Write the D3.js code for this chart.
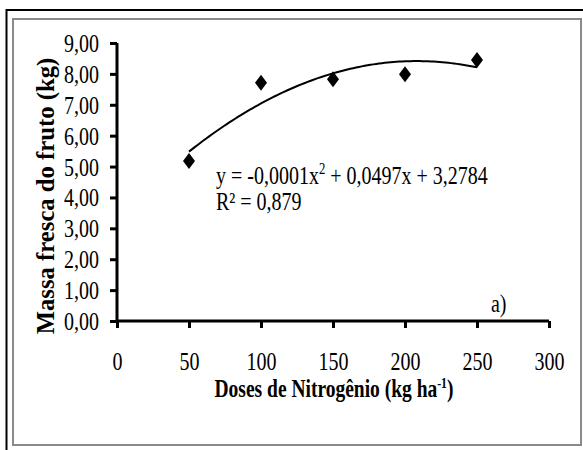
<!DOCTYPE html>
<html>
<head>
<meta charset="utf-8">
<script src="https://cdn.jsdelivr.net/npm/d3@7"></script>
<style>
  body { margin: 0; background: #fff; }
  svg { display: block; }
  text { font-family: "Liberation Serif", "Times New Roman", serif; fill: #000; }
</style>
</head>
<body>
<svg id="chart"></svg>
<script>
// Data
const doses = [50, 100, 150, 200, 250];
const massa = [5.18, 7.71, 7.83, 7.99, 8.45];
const xTicks = [0, 50, 100, 150, 200, 250, 300];
const yTicks = [0, 1, 2, 3, 4, 5, 6, 7, 8, 9];
const equationParts = ['y = -0,0001x', '2', ' + 0,0497x + 3,2784'];
const r2Label = 'R² = 0,879';

// Canvas
let width = 583;
let height = 450;
let margin = {left: 117, top: 43, right: 34, bottom: 129};
let fs = 25;    // font size of the plain texts
let sx = 0.8;   // horizontal squeeze of the text

let svg = d3.select('#chart')
    .attr('width', width)
    .attr('height', height);

// frame
svg.append('rect')
    .attr('x', 13).attr('y', 19)
    .attr('width', 568).attr('height', 426)
    .attr('fill', 'none')
    .attr('stroke', '#8a8a8a')
    .attr('stroke-width', 2);
svg.append('line')
    .attr('x1', 6).attr('x2', width).attr('y1', 10).attr('y2', 10)
    .attr('stroke', '#000').attr('stroke-width', 2);
svg.append('line')
    .attr('x1', 6.5).attr('x2', 6.5).attr('y1', 9).attr('y2', height)
    .attr('stroke', '#000').attr('stroke-width', 2);

// Scales
let xScale = d3.scaleLinear()
    .domain([0, 300])
    .range([margin.left, width - margin.right]);
let yScale = d3.scaleLinear()
    .domain([0, 9])
    .range([height - margin.bottom, margin.top]);

// quadratic least squares trend from the points
let fitQuadratic = (xs, ys) => {
    let s = [0, 0, 0, 0, 0];
    let t = [0, 0, 0];
    xs.forEach((x, i) => {
        for (let k = 0; k <= 4; k++) s[k] += Math.pow(x, k);
        for (let k = 0; k <= 2; k++) t[k] += Math.pow(x, k) * ys[i];
    });
    let A = [[s[0], s[1], s[2]], [s[1], s[2], s[3]], [s[2], s[3], s[4]]];
    let det = m => m[0][0] * (m[1][1] * m[2][2] - m[1][2] * m[2][1])
        - m[0][1] * (m[1][0] * m[2][2] - m[1][2] * m[2][0])
        + m[0][2] * (m[1][0] * m[2][1] - m[1][1] * m[2][0]);
    let D = det(A);
    let coef = [0, 1, 2].map(c => {
        let M = A.map((row, r) => row.map((v, j) => j === c ? t[r] : v));
        return det(M) / D;
    });
    return x => coef[0] + coef[1] * x + coef[2] * x * x;
};
let trend = fitQuadratic(doses, massa);
let trendX = d3.range(doses[0], doses[doses.length - 1] + 0.1, 2);

// Axes
let xAxis = d3.axisBottom(xScale)
    .tickValues(xTicks)
    .tickSize(7)
    .tickPadding(24)
    .tickFormat(d3.format('d'));
let yAxis = d3.axisLeft(yScale)
    .tickValues(yTicks)
    .tickSize(7)
    .tickPadding(11)
    .tickFormat(d => d.toFixed(2).replace('.', ','));

let gx = svg.append('g')
    .attr('transform', 'translate(0,' + yScale(0) + ')')
    .call(xAxis);
let gy = svg.append('g')
    .attr('transform', 'translate(' + xScale(0) + ',0)')
    .call(yAxis);

[gx, gy].forEach(g => {
    g.select('.domain').attr('stroke', '#000').attr('stroke-width', 3);
    g.selectAll('.tick line').attr('stroke', '#000').attr('stroke-width', 3);
    g.selectAll('.tick text')
        .attr('font-family', '"Liberation Serif", serif')
        .attr('font-size', fs)
        .attr('fill', '#000')
        .attr('transform', 'scale(' + sx + ',1)');
});
gy.select('.domain').attr('d', 'M0,' + yScale(0) + 'V' + yScale(9));
gx.select('.domain').attr('d', 'M' + xScale(0) + ',0H' + xScale(300));
gy.selectAll('.tick text')
    .attr('x', -18 / sx)
    .attr('dy', '0.34em');

// trend line
let line = d3.line()
    .x(d => xScale(d))
    .y(d => yScale(trend(d)));
svg.append('path')
    .datum(trendX)
    .attr('d', line)
    .attr('fill', 'none')
    .attr('stroke', '#000')
    .attr('stroke-width', 2);

// points
let diamond = (w, h) => 'M0,' + (-h / 2) + 'L' + (w / 2) + ',0L0,' + (h / 2) + 'L' + (-w / 2) + ',0Z';
svg.selectAll('.dot')
    .data(doses)
    .enter()
    .append('path')
    .attr('class', 'dot')
    .attr('d', diamond(12, 16))
    .attr('transform', (d, i) => 'translate(' + xScale(d) + ',' + yScale(massa[i]) + ')')
    .attr('fill', '#000');

// equation
let eq = svg.append('text')
    .attr('transform', 'translate(216,184) scale(' + sx + ',1)')
    .attr('font-size', fs);
eq.append('tspan').text(equationParts[0]);
eq.append('tspan').attr('dy', -10).attr('font-size', 16).text(equationParts[1]);
eq.append('tspan').attr('dy', 10).text(equationParts[2]);

svg.append('text')
    .attr('transform', 'translate(216,210) scale(' + sx + ',1)')
    .attr('font-size', fs)
    .text(r2Label);

svg.append('text')
    .attr('transform', 'translate(491,312) scale(' + sx + ',1)')
    .attr('font-size', fs)
    .text('a)');

// axis titles
let xt = svg.append('text')
    .attr('transform', 'translate(334,397) scale(0.78,1)')
    .attr('text-anchor', 'middle')
    .attr('font-size', 25)
    .attr('font-weight', 'bold');
xt.append('tspan').text('Doses de Nitrogênio (kg ha');
xt.append('tspan').attr('dy', -9).attr('font-size', 15).text('-1');
xt.append('tspan').attr('dy', 9).text(')');

svg.append('text')
    .attr('transform', 'translate(54,196) rotate(-90) scale(0.95,1)')
    .attr('text-anchor', 'middle')
    .attr('font-size', 26)
    .attr('font-weight', 'bold')
    .text('Massa fresca do fruto (kg)');
</script>
</body>
</html>
